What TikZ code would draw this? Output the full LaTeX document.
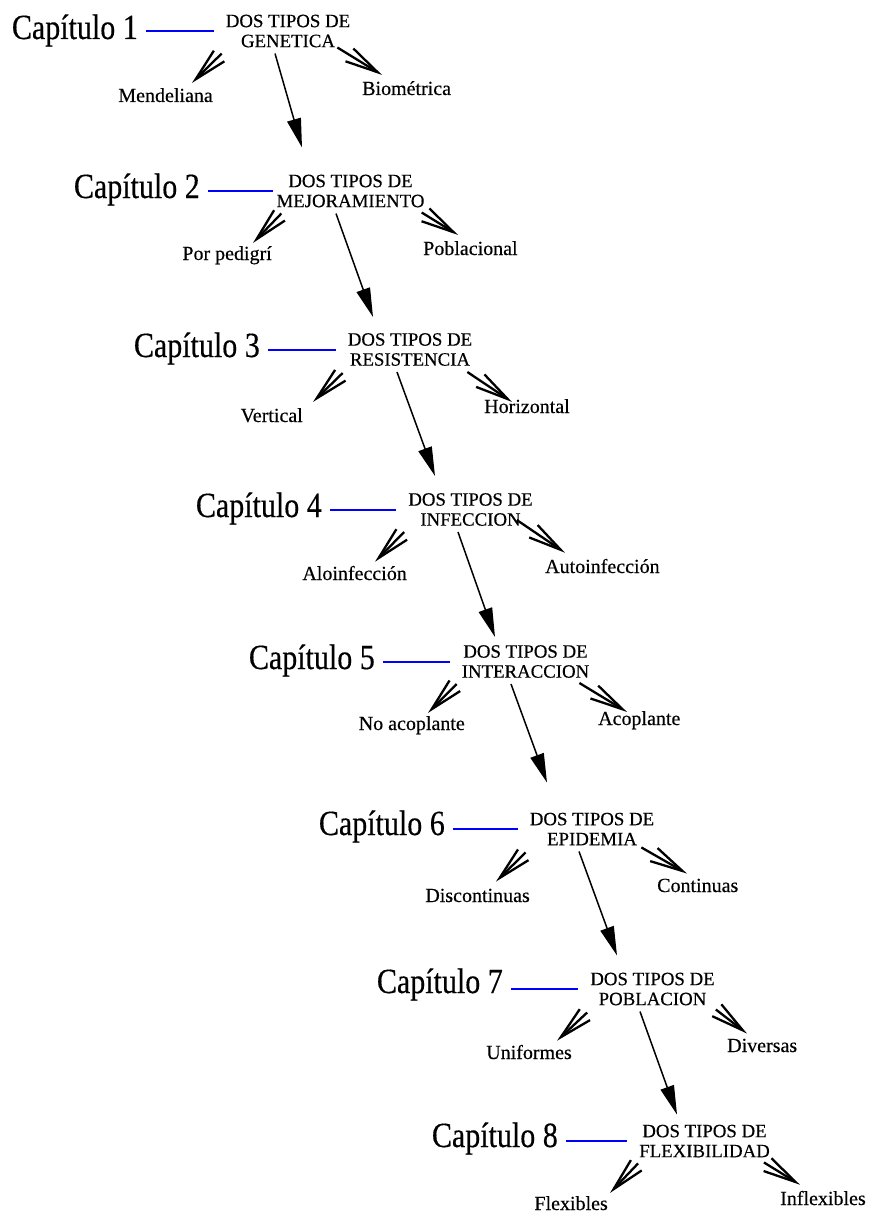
\documentclass[tikz,border=0pt]{standalone}
\usepackage{fontspec}
\setmainfont{Liberation Serif}[FakeBold=0.4]
\usetikzlibrary{arrows.meta}
\begin{document}
\begin{tikzpicture}[x=1pt,y=-1pt,
  chap/.style={anchor=base east,inner sep=0pt,font=\fontsize{30}{30}\selectfont},
  tipo/.style={align=center,inner sep=0pt,font=\fontsize{18.8}{20}\selectfont},
  hoja/.style={inner sep=0pt,font=\fontsize{20}{20}\selectfont},
  enlace/.style={draw=blue,line width=2pt,shorten <=8pt,shorten >=12pt},
  rama/.style={line width=2.3pt,-{Straight Barb[length=33pt,width=15pt]}},
  paso/.style={line width=1.5pt,-{Triangle[length=29pt,width=14pt]}}]
  \useasboundingbox (0,0) rectangle (869,1217);

  % chapters
  \node[chap] (c1) at (138,39) {\scalebox{1}[1.18]{Capítulo 1}};
  \node[chap] (c2) at (200,198) {\scalebox{1}[1.18]{Capítulo 2}};
  \node[chap] (c3) at (260,357) {\scalebox{1}[1.18]{Capítulo 3}};
  \node[chap] (c4) at (322,517) {\scalebox{1}[1.18]{Capítulo 4}};
  \node[chap] (c5) at (375,669) {\scalebox{1}[1.18]{Capítulo 5}};
  \node[chap] (c6) at (445,835) {\scalebox{1}[1.18]{Capítulo 6}};
  \node[chap] (c7) at (503,993) {\scalebox{1}[1.18]{Capítulo 7}};
  \node[chap] (c8) at (558,1147) {\scalebox{1}[1.18]{Capítulo 8}};

  % the two kinds
  \node[tipo] (t1) at (288,31) {DOS TIPOS DE\\GENETICA};
  \node[tipo] (t2) at (350.5,191) {DOS TIPOS DE\\MEJORAMIENTO};
  \node[tipo] (t3) at (410,349.5) {DOS TIPOS DE\\RESISTENCIA};
  \node[tipo] (t4) at (470.5,509.5) {DOS TIPOS DE\\INFECCION};
  \node[tipo] (t5) at (525.5,661.5) {DOS TIPOS DE\\INTERACCION};
  \node[tipo] (t6) at (592,829) {DOS TIPOS DE\\EPIDEMIA};
  \node[tipo] (t7) at (652.5,989) {DOS TIPOS DE\\POBLACION};
  \node[tipo] (t8) at (704.5,1141) {DOS TIPOS DE\\FLEXIBILIDAD};

  \node[hoja,anchor=base east] (l1) at (213,102) {Mendeliana};
  \node[hoja,anchor=base west] (r1) at (362,95) {Biométrica};
  \node[hoja,anchor=base east] (l2) at (272,260) {Por pedigrí};
  \node[hoja,anchor=base west] (r2) at (423,255) {Poblacional};
  \node[hoja,anchor=base east] (l3) at (303,422) {Vertical};
  \node[hoja,anchor=base west] (r3) at (484,413) {Horizontal};
  \node[hoja,anchor=base east] (l4) at (407,580) {Aloinfección};
  \node[hoja,anchor=base west] (r4) at (545,573) {Autoinfección};
  \node[hoja,anchor=base east] (l5) at (465,730) {No acoplante};
  \node[hoja,anchor=base west] (r5) at (598,725) {Acoplante};
  \node[hoja,anchor=base east] (l6) at (530,902) {Discontinuas};
  \node[hoja,anchor=base west] (r6) at (657,892) {Continuas};
  \node[hoja,anchor=base east] (l7) at (572,1059) {Uniformes};
  \node[hoja,anchor=base west] (r7) at (727,1052) {Diversas};
  \node[hoja,anchor=base east] (l8) at (608,1210) {Flexibles};
  \node[hoja,anchor=base west] (r8) at (780,1205) {Inflexibles};

  % blue links
  \draw[enlace] (t1.west -| c1.east) -- (t1.west);
  \draw[enlace,shorten >=3pt] (t2.west -| c2.east) -- (t2.west);
  \draw[enlace] (t3.west -| c3.east) -- (t3.west);
  \draw[enlace] (t4.west -| c4.east) -- (t4.west);
  \draw[enlace] (t5.west -| c5.east) -- (t5.west);
  \draw[enlace] (t6.west -| c6.east) -- (t6.west);
  \draw[enlace] (t7.west -| c7.east) -- (t7.west);
  \draw[enlace] (t8.west -| c8.east) -- (t8.west);

  % branches
  \draw[rama] ([shift={(-4,6)}]t1.south west) -- ([shift={(-21,-5)}]l1.north east);
  \draw[rama] ([shift={(-13,0)}]t1.south east) -- ([shift={(20,-6)}]r1.north west);
  \draw[rama] ([shift={(5,6)}]t2.south west) -- ([shift={(-19,-3)}]l2.north east);
  \draw[rama] ([shift={(-3,5)}]t2.south east) -- ([shift={(35,-6)}]r2.north west);
  \draw[rama] ([shift={(-5,7)}]t3.south west) -- ([shift={(10,-6)}]l3.north east);
  \draw[rama] ([shift={(-5,6)}]t3.south east) -- ([shift={(28,3)}]r3.north west);
  \draw[rama] ([shift={(-4,6)}]t4.south west) -- ([shift={(-32,-4)}]l4.north east);
  \draw[rama] ([shift={(-16,-6)}]t4.south east) -- ([shift={(20,-6)}]r4.north west);
  \draw[rama] ([shift={(-5,6)}]t5.south west) -- ([shift={(-37,-3)}]l5.north east);
  \draw[rama] ([shift={(-10,5)}]t5.south east) -- ([shift={(29,1)}]r5.north west);
  \draw[rama] ([shift={(-4,7)}]t6.south west) -- ([shift={(-34,-7)}]l6.north east);
  \draw[rama] ([shift={(-13,2)}]t6.south east) -- ([shift={(30,-5)}]r6.north west);
  \draw[rama] ([shift={(-3,7)}]t7.south west) -- ([shift={(-15,-4)}]l7.north east);
  \draw[rama] ([shift={(1,4)}]t7.south east) -- ([shift={(20,-5)}]r7.north west);
  \draw[rama] ([shift={(-1,6)}]t8.south west) -- ([shift={(2,-3)}]l8.north east);
  \draw[rama] ([shift={(-6,5)}]t8.south east) -- ([shift={(20,-6)}]r8.north west);

  % down the chapters
  \draw[paso] ([shift={(-13,6)}]t1.south) -- ([shift={(-48.5,-27)}]t2.north);
  \draw[paso] ([shift={(-14.5,6)}]t2.south) -- ([shift={(-37,-16)}]t3.north);
  \draw[paso] ([shift={(-13,6)}]t3.south) -- ([shift={(-35.5,-17)}]t4.north);
  \draw[paso] ([shift={(-12.5,6)}]t4.south) -- ([shift={(-30.5,-8)}]t5.north);
  \draw[paso] ([shift={(-14.5,6)}]t5.south) -- ([shift={(-45,-30)}]t6.north);
  \draw[paso] ([shift={(-13,6)}]t6.south) -- ([shift={(-35.5,-17)}]t7.north);
  \draw[paso] ([shift={(-12.5,6)}]t7.south) -- ([shift={(-27.5,-10)}]t8.north);
\end{tikzpicture}
\end{document}
